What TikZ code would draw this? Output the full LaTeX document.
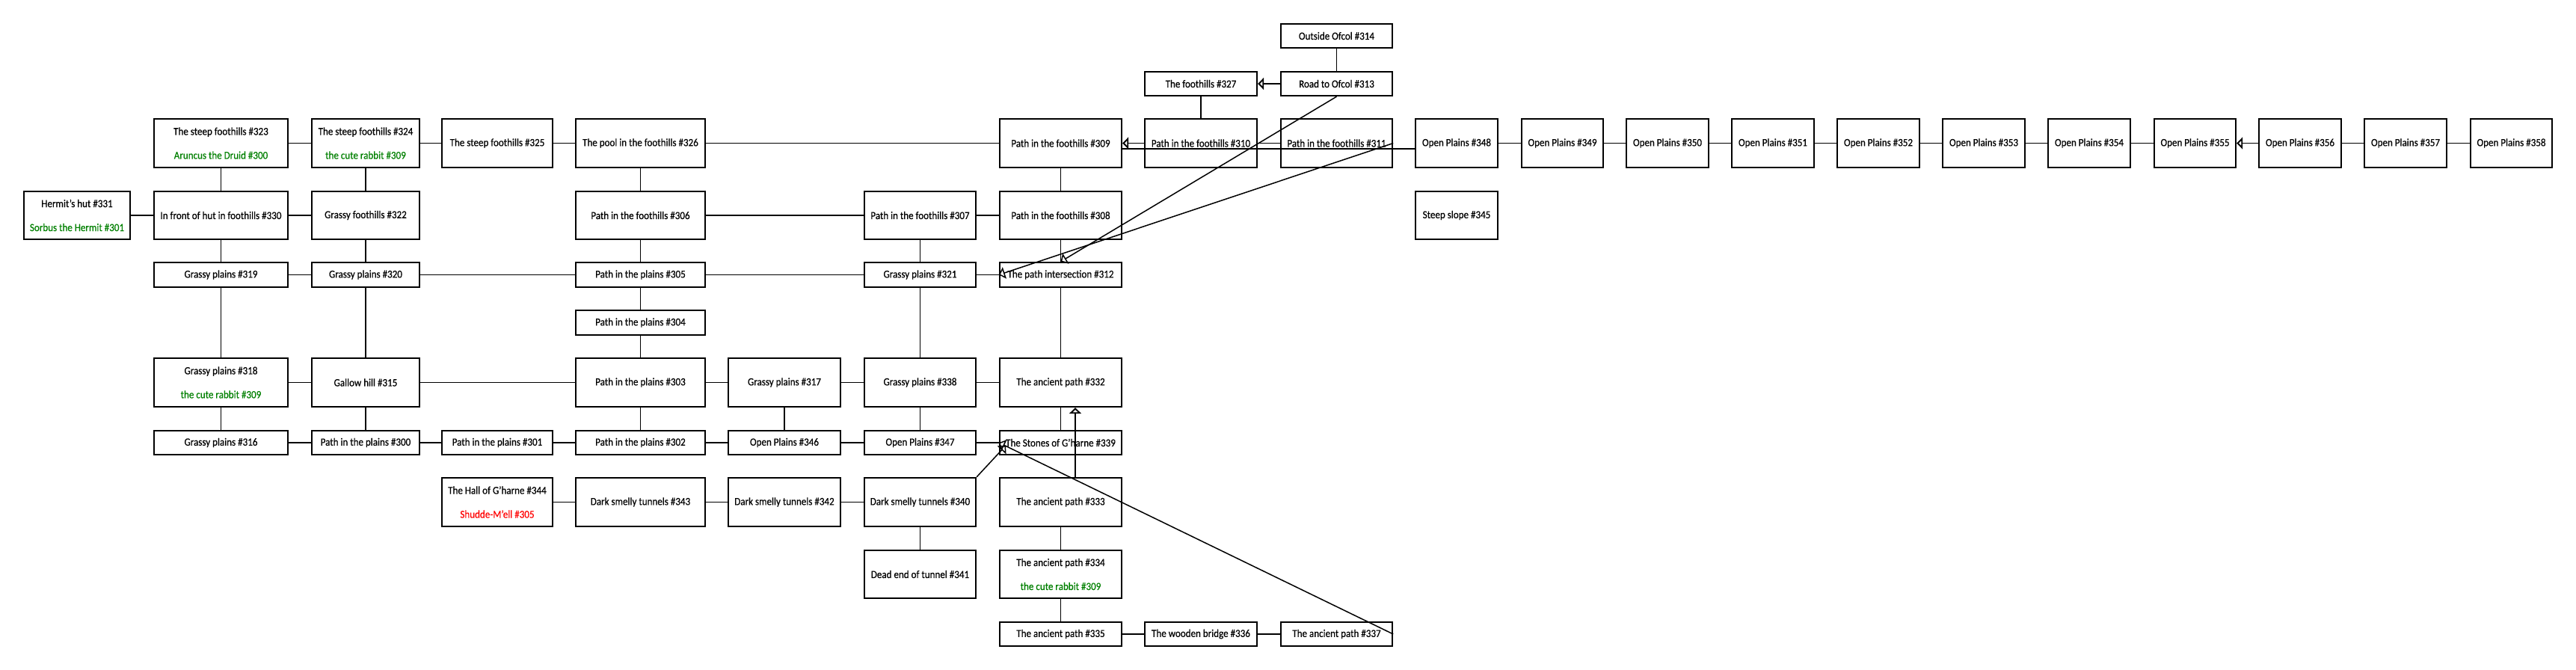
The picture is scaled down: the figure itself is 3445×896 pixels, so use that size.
\documentclass[tikz,border=0pt]{standalone}
\usepackage{fontspec}
\setmainfont{Carlito}[FakeStretch=0.9, FakeBold=0.5]
\usetikzlibrary{arrows.meta}
\definecolor{npcgreen}{RGB}{0,128,0}
\definecolor{mobred}{RGB}{255,0,0}
\newcommand\npc[1]{\textcolor{npcgreen}{#1}}
\newcommand\mob[1]{\textcolor{mobred}{#1}}
\newcommand\room[6]{%
  \pgfmathsetmacro\rw{#3-#2}\pgfmathsetmacro\rh{#5-#4}%
  \pgfmathsetmacro\rx{(#2+#3)/2}\pgfmathsetmacro\ry{(#4+#5)/2}%
  \node[room, minimum width=\rw pt, minimum height=\rh pt] (#1) at (\rx,\ry) {#6};}
\tikzset{
  room/.style={draw, line width=2.3pt, inner sep=0pt, align=center, fill=white,
    font=\fontsize{14.5}{32}\selectfont},
  link/.style={line width=1.9pt},
  oneway/.style={line width=1.9pt, -{Triangle[open, length=8pt, width=16pt]}},
  diag/.style={line width=1.5pt, -{Triangle[open, length=8pt, width=16pt]}},
}
\begin{document}
\begin{tikzpicture}[x=1pt,y=-1pt]
\useasboundingbox[fill=white] (0,0) rectangle (3445,896);
% rows: R0 32-64, R1 96-128, R2 159-224, R3 256-320, R4 351-384, R5 415-448,
% R6 479-544, R7 576-608, R8 639-704, R9 736-800, R10 832-864
\room{r314}{1713}{1862}{32}{64}{Outside Ofcol \#314}
\room{r327}{1531}{1681}{96}{128}{The foothills \#327}
\room{r313}{1713}{1862}{96}{128}{Road to Ofcol \#313}
% R2
\room{r323}{206}{385}{159}{224}{The steep foothills \#323\\\npc{Aruncus the Druid \#300}}
\room{r324}{417}{561}{159}{224}{The steep foothills \#324\\\npc{the cute rabbit \#309}}
\room{r325}{591}{739}{159}{224}{The steep foothills \#325}
\room{r326}{770}{943}{159}{224}{The pool in the foothills \#326}
\room{r309}{1337}{1500}{159}{224}{Path in the foothills \#309}
\room{r310}{1531}{1681}{159}{224}{Path in the foothills \#310}
\room{r311}{1713}{1862}{159}{224}{Path in the foothills \#311}
\room{r348}{1893}{2003}{159}{224}{Open Plains \#348}
\room{r349}{2035}{2144}{159}{224}{Open Plains \#349}
\room{r350}{2175}{2285}{159}{224}{Open Plains \#350}
\room{r351}{2316}{2426}{159}{224}{Open Plains \#351}
\room{r352}{2457}{2567}{159}{224}{Open Plains \#352}
\room{r353}{2598}{2708}{159}{224}{Open Plains \#353}
\room{r354}{2739}{2849}{159}{224}{Open Plains \#354}
\room{r355}{2881}{2990}{159}{224}{Open Plains \#355}
\room{r356}{3021}{3131}{159}{224}{Open Plains \#356}
\room{r357}{3162}{3272}{159}{224}{Open Plains \#357}
\room{r358}{3304}{3413}{159}{224}{Open Plains \#358}
% R3
\room{r331}{32}{174}{256}{320}{Hermit's hut \#331\\\npc{Sorbus the Hermit \#301}}
\room{r330}{206}{385}{256}{320}{In front of hut in foothills \#330}
\room{r322}{417}{561}{256}{320}{Grassy foothills \#322}
\room{r306}{770}{943}{256}{320}{Path in the foothills \#306}
\room{r307}{1156}{1305}{256}{320}{Path in the foothills \#307}
\room{r308}{1337}{1500}{256}{320}{Path in the foothills \#308}
\room{r345}{1893}{2003}{256}{320}{Steep slope \#345}
% R4
\room{r319}{206}{385}{351}{384}{Grassy plains \#319}
\room{r320}{417}{561}{351}{384}{Grassy plains \#320}
\room{r305}{770}{943}{351}{384}{Path in the plains \#305}
\room{r321}{1156}{1305}{351}{384}{Grassy plains \#321}
\room{r312}{1337}{1500}{351}{384}{The path intersection \#312}
% R5
\room{r304}{770}{943}{415}{448}{Path in the plains \#304}
% R6
\room{r318}{206}{385}{479}{544}{Grassy plains \#318\\\npc{the cute rabbit \#309}}
\room{r315}{417}{561}{479}{544}{Gallow hill \#315}
\room{r303}{770}{943}{479}{544}{Path in the plains \#303}
\room{r317}{974}{1124}{479}{544}{Grassy plains \#317}
\room{r338}{1156}{1305}{479}{544}{Grassy plains \#338}
\room{r332}{1337}{1500}{479}{544}{The ancient path \#332}
% R7
\room{r316}{206}{385}{576}{608}{Grassy plains \#316}
\room{r300}{417}{561}{576}{608}{Path in the plains \#300}
\room{r301}{591}{739}{576}{608}{Path in the plains \#301}
\room{r302}{770}{943}{576}{608}{Path in the plains \#302}
\room{r346}{974}{1124}{576}{608}{Open Plains \#346}
\room{r347}{1156}{1305}{576}{608}{Open Plains \#347}
\room{r339}{1337}{1500}{576}{608}{The Stones of G'harne \#339}
% R8
\room{r344}{591}{739}{639}{704}{The Hall of G'harne \#344\\\mob{Shudde-M'ell \#305}}
\room{r343}{770}{943}{639}{704}{Dark smelly tunnels \#343}
\room{r342}{974}{1124}{639}{704}{Dark smelly tunnels \#342}
\room{r340}{1156}{1305}{639}{704}{Dark smelly tunnels \#340}
\room{r333}{1337}{1500}{639}{704}{The ancient path \#333}
% R9
\room{r341}{1156}{1305}{736}{800}{Dead end of tunnel \#341}
\room{r334}{1337}{1500}{736}{800}{The ancient path \#334\\\npc{the cute rabbit \#309}}
% R10
\room{r335}{1337}{1500}{832}{864}{The ancient path \#335}
\room{r336}{1531}{1681}{832}{864}{The wooden bridge \#336}
\room{r337}{1713}{1862}{832}{864}{The ancient path \#337}

% horizontal two-way links
\foreach \a/\b in {r323/r324,r324/r325,r325/r326,r326/r309,r310/r311,
  r348/r349,r349/r350,r350/r351,r351/r352,r352/r353,r353/r354,r354/r355,
  r356/r357,r357/r358,
  r331/r330,r330/r322,r306/r307,r307/r308,
  r319/r320,r320/r305,r305/r321,r321/r312,
  r318/r315,r315/r303,r303/r317,r317/r338,r338/r332,
  r316/r300,r300/r301,r301/r302,r302/r346,r346/r347,r347/r339,
  r344/r343,r343/r342,r342/r340,
  r335/r336,r336/r337}
  \draw[link] (\a.east) -- (\b.west);
% vertical two-way links
\foreach \a/\b in {r323/r330,r330/r319,r319/r318,r318/r316,
  r324/r322,r322/r320,r320/r315,r315/r300,
  r326/r306,r306/r305,r305/r304,r304/r303,r303/r302,
  r317/r346,
  r307/r321,r321/r338,r338/r347,r340/r341,
  r309/r308,r308/r312,r312/r332,r332/r339,r333/r334,r334/r335,
  r327/r310,r314/r313}
  \draw[link] (\a.south) -- (\b.north);
\draw[line width=1.5pt] ([yshift=-7.5pt]r309.east) -- ([yshift=-7.5pt]r348.west);

% one-way exits
\draw[oneway] (r313.west) -- (r327.east);
\draw[oneway] (r310.west) -- (r309.east);
\draw[oneway] (r356.west) -- (r355.east);
\draw[oneway] ([xshift=19.5pt]r333.north) -- ([xshift=19.5pt]r332.south);
\draw[diag] (r313.south) -- (r312.north);
\draw[diag] (r311.east) -- (r312.west);
\draw[diag] (r337.east) -- (r339.west);
\coordinate (tip340) at (1345,596);
\draw[diag] (r340.north east) -- (tip340);
\end{tikzpicture}
\end{document}
